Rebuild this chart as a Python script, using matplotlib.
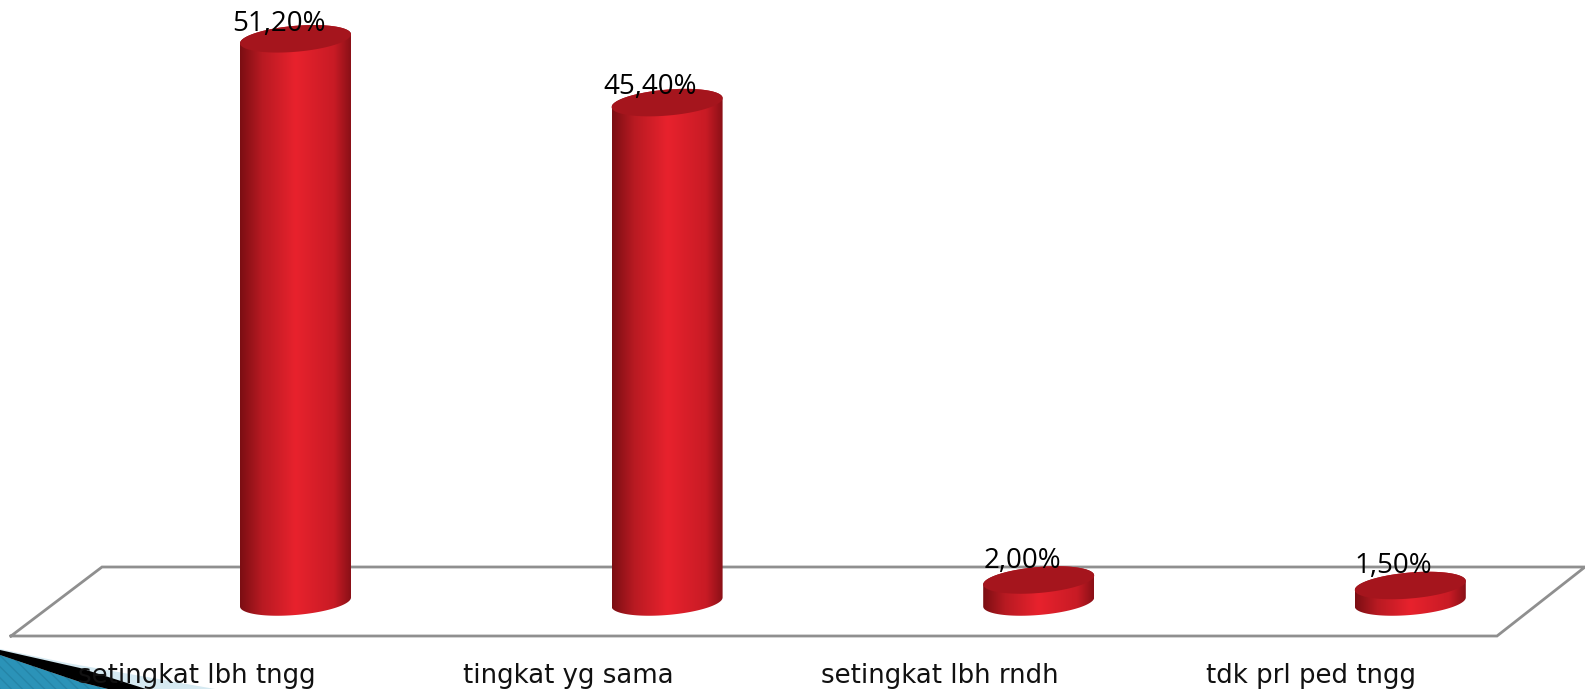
import numpy as np
from matplotlib import pyplot as plt
from matplotlib.colors import LinearSegmentedColormap
from matplotlib.patches import Polygon, PathPatch
from matplotlib.path import Path

categories = ['setingkat lbh tngg', 'tingkat yg sama', 'setingkat lbh rndh', 'tdk prl ped tngg']
values = [51.2, 45.4, 2.0, 1.5]
value_labels = ['51,20%', '45,40%', '2,00%', '1,50%']

W, H = 1585, 689
X0, DX = 295.5, 371.6   # pixel of first bar, pixels per category
Y0, DY = 602.0, 11.0    # pixel of zero, pixels per percent

def px(x, y):
    return (np.asarray(x, float) - X0) / DX, (Y0 - np.asarray(y, float)) / DY

fig = plt.figure(figsize=(W / 100, H / 100), dpi=100)
ax = fig.add_axes([0, 0, 1, 1])
xlim = px([0, W], [H, 0])
ax.set_xlim(xlim[0][0], xlim[0][1])
ax.set_ylim(xlim[1][0], xlim[1][1])
ax.axis('off')

# lantai 3d
fx, fy = px([11, 102, 1585, 1497, 11], [636, 567, 567, 636, 636])
ax.plot(fx, fy, color='#8f8f8f', lw=2, solid_joinstyle='miter', zorder=1)

# hiasan pojok kiri bawah
def corner(points, color, z, **kw):
    x, y = px(*zip(*points))
    ax.add_patch(Polygon(np.c_[x, y], closed=True, fc=color, ec=kw.pop('ec', 'none'), lw=0, zorder=z, **kw))

corner([(0, 649), (67, 663), (215, 689), (0, 689)], '#d5e9f1', 2)
corner([(0, 655), (80, 682), (108, 689), (0, 689)], '#2b93b8', 3, ec='#2585a8', hatch='\\\\\\')
corner([(0, 650), (80, 668), (146, 689), (108, 689), (80, 682), (0, 655)], '#000000', 4)

cmap = LinearSegmentedColormap.from_list('bar', [
    (0.0, '#7b0e13'), (0.2, '#b81a22'), (0.5, '#e8222d'),
    (0.85, '#c81b25'), (1.0, '#8a1017')])
grad = np.linspace(0, 1, 256).reshape(1, -1)

a = 55.5 / DX    # setengah lebar silinder
b = 13.0 / DY    # setengah tinggi elips
k = 4.5 / DY     # kemiringan elips, sisi kanan lebih tinggi
t = np.linspace(0, 2 * np.pi, 121)

for i, v in enumerate(values):
    ex = i + a * np.cos(t)
    top = v + b * np.sin(t) + k * np.cos(t)
    # badan silinder: sisi bawah elips dasar lalu sisi atas elips puncak
    lower = t[60:121]
    bx = i + a * np.cos(lower)
    by = b * np.sin(lower) + k * np.cos(lower)
    upper = t[:61]
    ux = i + a * np.cos(upper)
    uy = v + b * np.sin(upper) + k * np.cos(upper)
    body = np.r_[np.c_[bx, by], np.c_[ux, uy]]
    im = ax.imshow(grad, cmap=cmap, aspect='auto', zorder=5,
                   extent=(i - a, i + a, -b - k, v + b + k))
    im.set_clip_path(PathPatch(Path(np.r_[body, body[:1]]), transform=ax.transData))
    ax.fill(ex, top, color='#a5151d', lw=0, zorder=6)
    ax.text(i - 0.045, v + 0.5 - 0.008 * v, value_labels[i], ha='center', va='bottom',
            fontsize=20, family='Open Sans', color='black', zorder=8)
    ax.text(i - 0.266, px(0, 676)[1], categories[i], ha='center', va='center',
            fontsize=18.7, family='DejaVu Sans', color='#111111', zorder=8)

ax.set_xlim(xlim[0][0], xlim[0][1])
ax.set_ylim(xlim[1][0], xlim[1][1])
fig.savefig('out.png', dpi=100)
